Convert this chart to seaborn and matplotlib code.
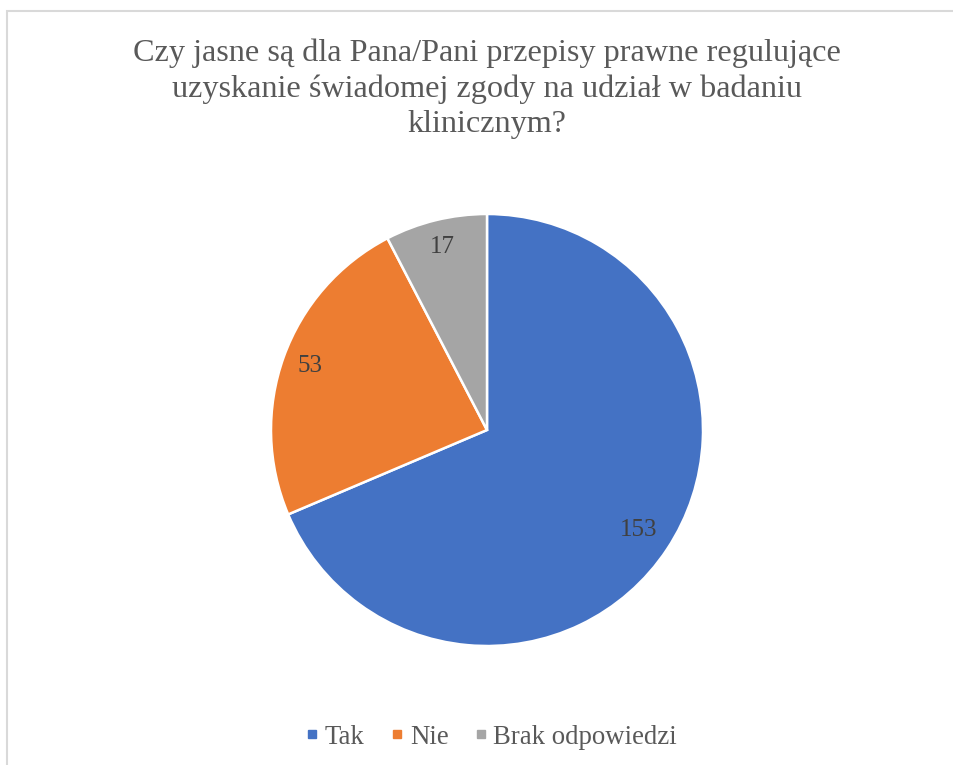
import matplotlib
matplotlib.use("Agg")
import numpy as np
import matplotlib.pyplot as plt
from matplotlib.patches import Rectangle
from matplotlib.lines import Line2D
import seaborn as sns

# Survey answers
categories = ["Tak", "Nie", "Brak odpowiedzi"]
counts = [153, 53, 17]
colors = ["#4472C4", "#ED7D31", "#A5A5A5"]
title = ("Czy jasne są dla Pana/Pani przepisy prawne regulujące\n"
         "uzyskanie świadomej zgody na udział w badaniu\n"
         "klinicznym?")

sns.set_theme(style="white")
plt.rcParams["font.family"] = ["Liberation Serif", "DejaVu Serif"]

W, H = 954, 765
fig = plt.figure(figsize=(W / 100, H / 100), dpi=100)
fig.patch.set_facecolor("white")

# square axes holding the pie (center ~ (487, 430) px, radius ~216 px)
cx, cy, r = 487, 430, 216
ax = fig.add_axes([(cx - r) / W, (H - cy - r) / H, 2 * r / W, 2 * r / H])

total = sum(counts)
wedges, _, autotexts = ax.pie(
    counts,
    colors=colors,
    startangle=90,
    counterclock=False,
    radius=1.0,
    autopct=lambda p: f"{round(p * total / 100):d}",
    pctdistance=0.87,
    wedgeprops=dict(edgecolor="white", linewidth=1.8),
    textprops=dict(color="#404040", fontsize=18),
)
# the large slice's label sits a little further inside
w = wedges[0]
mid = np.deg2rad((w.theta1 + w.theta2) / 2)
autotexts[0].set_position((0.84 * np.cos(mid), 0.84 * np.sin(mid)))

ax.set_xlim(-1, 1)
ax.set_ylim(-1, 1)
ax.set_aspect("equal")
ax.axis("off")

fig.text(cx / W, 1 - 38 / H, title, ha="center", va="top",
         fontsize=23.2, color="#595959", linespacing=1.3)

handles = [Line2D([0], [0], marker="s", linestyle="none", markersize=5.8,
                  markerfacecolor=c, markeredgecolor=c) for c in colors]
fig.legend(handles, categories, loc="center", bbox_to_anchor=((cx + 5) / W, 1 - 737 / H),
           ncol=3, frameon=False, fontsize=19.3, labelcolor="#595959",
           handlelength=0.4, handletextpad=0.28, columnspacing=1.0)

# light outer frame
fig.add_artist(Rectangle((7 / W, -0.05), 1.0, (H - 11.5) / H + 0.05,
                         transform=fig.transFigure, fill=False,
                         edgecolor="#D9D9D9", linewidth=1.5))

fig.savefig("out.png", dpi=100, facecolor="white")
